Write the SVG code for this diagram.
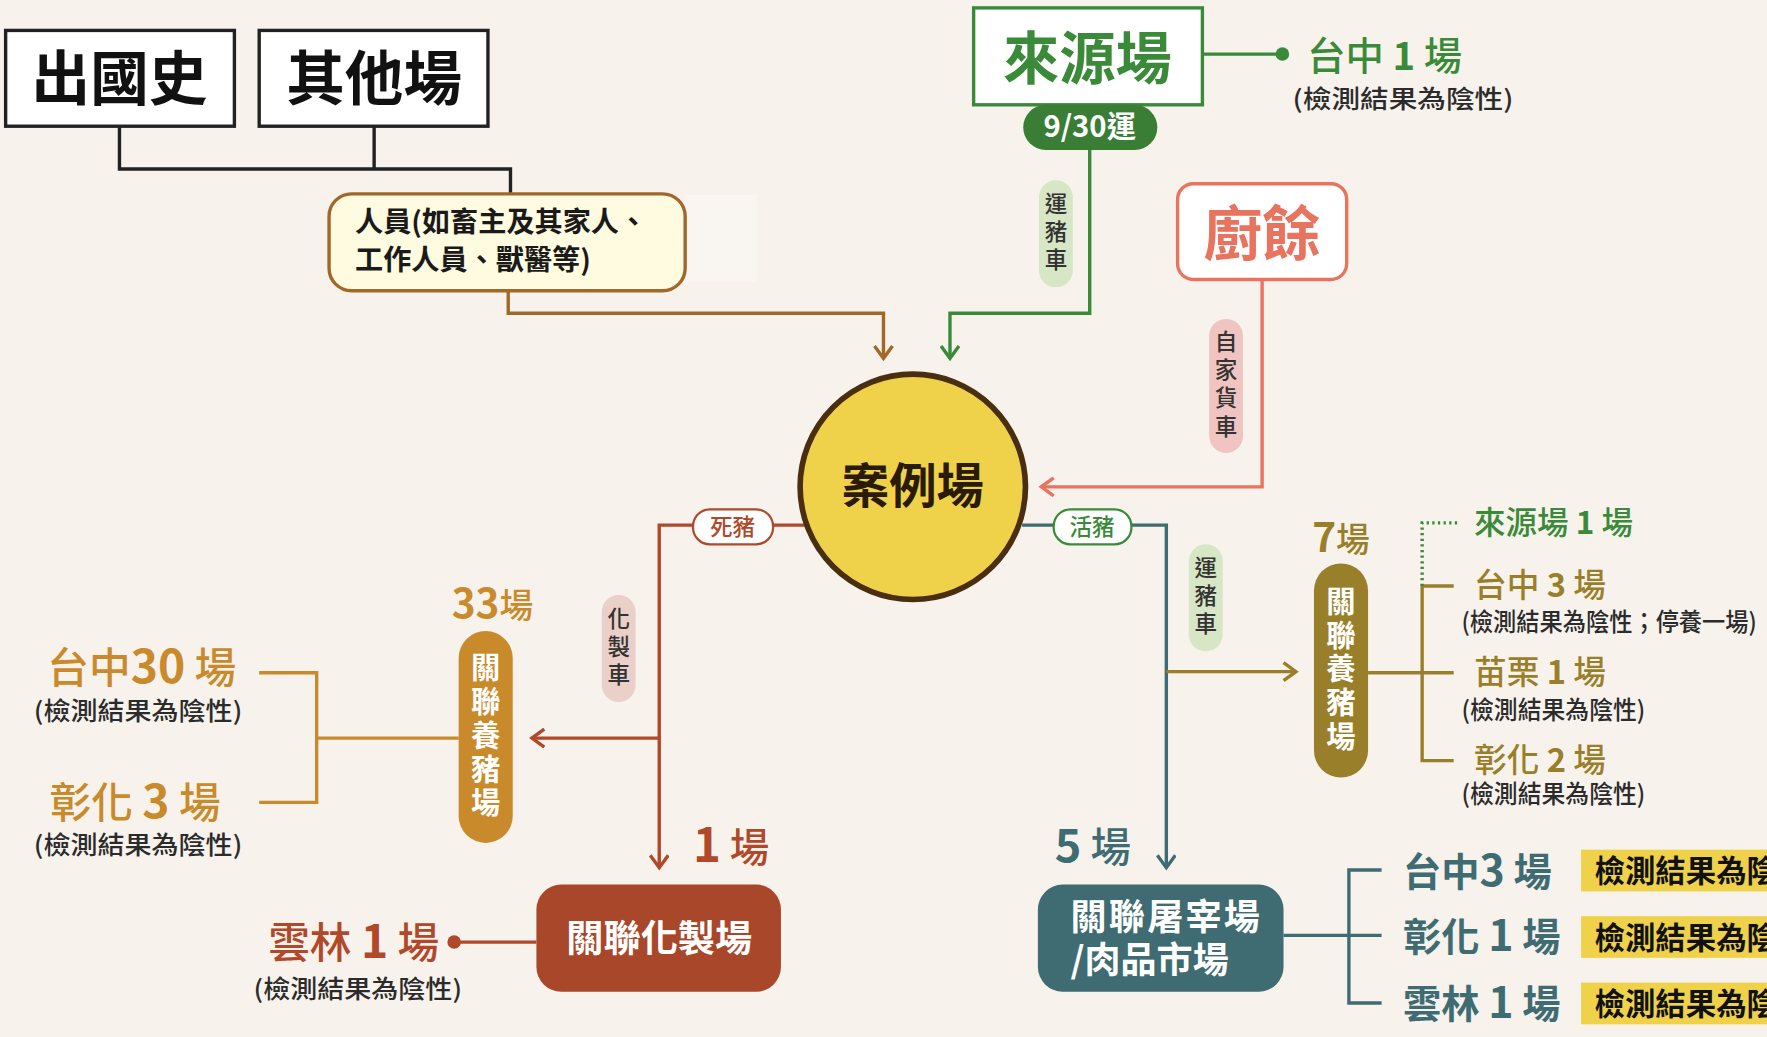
<svg xmlns="http://www.w3.org/2000/svg" width="1767" height="1037" viewBox="0 0 1767 1037">
<defs>
<style>
text{font-family:"Noto Sans CJK TC","Noto Sans CJK SC",sans-serif}
.b{font-weight:700}
.m{font-weight:500}
.sub{font-size:22px;fill:#2b2b2b;font-weight:500}
.ln{fill:none;stroke-width:3}
.vt{font-size:20px;fill:#333;text-anchor:middle;font-weight:500;writing-mode:vertical-rl;letter-spacing:5px}
.wv{font-size:26px;fill:#fff;text-anchor:middle;font-weight:700;writing-mode:vertical-rl;letter-spacing:4px}
</style>
<marker id="aBrown" markerWidth="18" markerHeight="18" refX="13" refY="9" orient="auto" markerUnits="userSpaceOnUse"><path d="M2,1 L13,9 L2,17" fill="none" stroke="#a0692a" stroke-width="3"/></marker>
<marker id="aGreen" markerWidth="18" markerHeight="18" refX="13" refY="9" orient="auto" markerUnits="userSpaceOnUse"><path d="M2,1 L13,9 L2,17" fill="none" stroke="#3a8a3a" stroke-width="3"/></marker>
<marker id="aSalmon" markerWidth="18" markerHeight="18" refX="13" refY="9" orient="auto" markerUnits="userSpaceOnUse"><path d="M2,1 L13,9 L2,17" fill="none" stroke="#e8735f" stroke-width="3"/></marker>
<marker id="aRust" markerWidth="18" markerHeight="18" refX="13" refY="9" orient="auto" markerUnits="userSpaceOnUse"><path d="M2,1 L13,9 L2,17" fill="none" stroke="#b0482a" stroke-width="3"/></marker>
<marker id="aTeal" markerWidth="18" markerHeight="18" refX="13" refY="9" orient="auto" markerUnits="userSpaceOnUse"><path d="M2,1 L13,9 L2,17" fill="none" stroke="#3f6b73" stroke-width="3"/></marker>
<marker id="aOlive" markerWidth="18" markerHeight="18" refX="13" refY="9" orient="auto" markerUnits="userSpaceOnUse"><path d="M2,1 L13,9 L2,17" fill="none" stroke="#9a7f2a" stroke-width="3"/></marker>
</defs>
<rect width="1767" height="1037" fill="#f7f2ec"/>
<g transform="scale(1.1269)">
<rect x="608" y="173" width="64" height="77" fill="#f9f5f0"/>
<g id="connectors">
<path class="ln" d="M106,112 V150 H453 V172 M332,112 V150" stroke="#222" stroke-width="2"/>
<path class="ln" d="M451,258 V278 H784 V318" stroke="#a0692a" marker-end="url(#aBrown)"/>
<path class="ln" d="M967,133 V278 H843 V318" stroke="#3a8a3a" marker-end="url(#aGreen)"/>
<path class="ln" d="M1067,48 H1138" stroke="#3a8a3a"/>
<circle cx="1138" cy="48" r="6" fill="#3a8a3a"/>
<path class="ln" d="M1120,248 V432 H924" stroke="#e8735f" marker-end="url(#aSalmon)"/>
<path class="ln" d="M715,466 H585 V770" stroke="#b0482a" marker-end="url(#aRust)"/>
<path class="ln" d="M585,655 H472" stroke="#b0482a" marker-end="url(#aRust)"/>
<path class="ln" d="M476,836 H403" stroke="#b0482a" stroke-width="2"/>
<circle cx="403" cy="836" r="6" fill="#b0482a"/>
<path class="ln" d="M407,655 H281 M230,597 H281 V712 H230" stroke="#c98a2c"/>
<path class="ln" d="M907,466 H1035 V770" stroke="#3f6b73" marker-end="url(#aTeal)"/>
<path class="ln" d="M1035,596 H1150" stroke="#9a7f2a" marker-end="url(#aOlive)"/>
<path class="ln" d="M1214,597 H1290 M1290,520 H1262 V675 H1290" stroke="#9a7f2a"/>
<path class="ln" d="M1262,520 V464 H1296" stroke="#3a8a3a" stroke-dasharray="2,3"/>
<path class="ln" d="M1139,830 H1226 M1226,772 H1197 V890 H1226" stroke="#3f6b73"/>
</g>
<g id="n-chuguoshi">
<rect x="5" y="27" width="203" height="85" fill="#fff" stroke="#222" stroke-width="3"/>
<text x="106" y="89" font-size="52" class="b" text-anchor="middle" fill="#111">出國史</text>
</g>
<g id="n-qitachang">
<rect x="230" y="27" width="203" height="85" fill="#fff" stroke="#222" stroke-width="3"/>
<text x="332" y="89" font-size="52" class="b" text-anchor="middle" fill="#111">其他場</text>
</g>
<g id="n-renyuan">
<rect x="292" y="172" width="316" height="86" rx="20" fill="#fffbe0" stroke="#a0692a" stroke-width="3"/>
<text x="315" y="206" font-size="25" class="b" fill="#1a1a1a">人員(如畜主及其家人、</text>
<text x="315" y="240" font-size="25" class="b" fill="#1a1a1a">工作人員、獸醫等)</text>
</g>
<g id="n-laiyuan">
<rect x="864" y="7" width="203" height="86" fill="#fff" stroke="#3a8a3a" stroke-width="3"/>
<text x="965" y="70" font-size="50" class="b" text-anchor="middle" fill="#3a8a3a">來源場</text>
<rect x="908" y="93" width="119" height="40" rx="20" fill="#3a7d35"/>
<text x="967" y="122" font-size="26" class="b" text-anchor="middle" fill="#fff">9/30運</text>
<text x="1160" y="62" font-size="34" fill="#3a8a3a" class="m">台中 <tspan class="b">1</tspan> 場</text>
<text x="1147" y="96" class="sub" font-size="23" textLength="196" lengthAdjust="spacingAndGlyphs">(檢測結果為陰性)</text>
</g>
<g id="l-yunzhuche1">
<rect x="922" y="160" width="30" height="95" rx="15" fill="#d7e6c4"/>
<text class="vt" x="937" y="208">運豬車</text>
</g>
<g id="n-chuyu">
<rect x="1045" y="163" width="150" height="85" rx="14" fill="#fff" stroke="#e8735f" stroke-width="3"/>
<text x="1120" y="226" font-size="52" class="b" text-anchor="middle" fill="#e8735f">廚餘</text>
</g>
<g id="l-zijia">
<rect x="1073" y="283" width="30" height="119" rx="15" fill="#f0c4c0"/>
<text class="vt" x="1088" y="343">自家貨車</text>
</g>
<g id="n-anli">
<circle cx="810" cy="432" r="100" fill="#f0d24a" stroke="#4a2e10" stroke-width="5"/>
<text x="810" y="446" font-size="42" class="b" text-anchor="middle" fill="#2a1a08">案例場</text>
</g>
<g id="l-sizhu">
<rect x="615" y="452" width="71" height="31" rx="15" fill="#fff" stroke="#b0482a" stroke-width="2"/>
<text x="650" y="475" font-size="20" class="m" text-anchor="middle" fill="#b0482a">死豬</text>
</g>
<g id="l-huazhiche">
<rect x="534" y="528" width="30" height="95" rx="15" fill="#ead0c8"/>
<text class="vt" x="549" y="576">化製車</text>
</g>
<g id="n-yangzhu-left">
<text x="437" y="548" font-size="36" class="b" text-anchor="middle" fill="#c98a2c">33<tspan font-size="30" class="m">場</tspan></text>
<rect x="407" y="560" width="48" height="188" rx="24" fill="#c98a2c"/>
<text class="wv" x="431" y="654">關聯養豬場</text>
<text x="42" y="606" font-size="37" fill="#c98a2c" class="m">台中<tspan class="b" font-size="41">30</tspan> 場</text>
<text x="30" y="639" class="sub" font-size="23" textLength="185" lengthAdjust="spacingAndGlyphs">(檢測結果為陰性)</text>
<text x="44" y="726" font-size="37" fill="#c98a2c" class="m">彰化 <tspan class="b" font-size="41">3</tspan> 場</text>
<text x="30" y="758" class="sub" font-size="23" textLength="185" lengthAdjust="spacingAndGlyphs">(檢測結果為陰性)</text>
</g>
<g id="n-huazhi">
<text x="615" y="765" font-size="35" fill="#b0482a" class="m"><tspan class="b" font-size="42">1</tspan> 場</text>
<rect x="476" y="785" width="217" height="95" rx="22" fill="#a8472a"/>
<text x="585" y="845" font-size="33" class="b" text-anchor="middle" fill="#fff">關聯化製場</text>
<text x="238" y="850" font-size="37" fill="#b0482a" class="m">雲林 <tspan class="b" font-size="41">1</tspan> 場</text>
<text x="225" y="886" class="sub" font-size="23" textLength="185" lengthAdjust="spacingAndGlyphs">(檢測結果為陰性)</text>
</g>
<g id="l-huozhu">
<rect x="935" y="452" width="69" height="31" rx="15" fill="#fff" stroke="#3a8a3a" stroke-width="2"/>
<text x="969" y="475" font-size="20" class="m" text-anchor="middle" fill="#3a8a3a">活豬</text>
</g>
<g id="l-yunzhuche2">
<rect x="1055" y="483" width="30" height="95" rx="15" fill="#d7e6c4"/>
<text class="vt" x="1070" y="531">運豬車</text>
</g>
<g id="n-yangzhu-right">
<text x="1190" y="490" font-size="36" class="b" text-anchor="middle" fill="#9a7f2a">7<tspan font-size="30" class="m">場</tspan></text>
<rect x="1166" y="500" width="48" height="190" rx="24" fill="#9a7f2a"/>
<text class="wv" x="1190" y="595">關聯養豬場</text>
<text x="1308" y="474" font-size="28" fill="#3a8a3a" class="m">來源場 <tspan class="b">1</tspan> 場</text>
<text x="1308" y="530" font-size="29" fill="#9a7f2a" class="m">台中 <tspan class="b">3</tspan> 場</text>
<text x="1297" y="560" class="sub" font-size="20" textLength="262" lengthAdjust="spacingAndGlyphs">(檢測結果為陰性；停養一場)</text>
<text x="1308" y="607" font-size="29" fill="#9a7f2a" class="m">苗栗 <tspan class="b">1</tspan> 場</text>
<text x="1297" y="638" class="sub" font-size="20" textLength="163" lengthAdjust="spacingAndGlyphs">(檢測結果為陰性)</text>
<text x="1308" y="685" font-size="29" fill="#9a7f2a" class="m">彰化 <tspan class="b">2</tspan> 場</text>
<text x="1297" y="713" class="sub" font-size="20" textLength="163" lengthAdjust="spacingAndGlyphs">(檢測結果為陰性)</text>
</g>
<g id="n-tuzai">
<text x="936" y="765" font-size="36" fill="#3f6b73" class="m"><tspan class="b" font-size="40">5</tspan> 場</text>
<rect x="921" y="785" width="218" height="95" rx="22" fill="#3f6b73"/>
<text x="950" y="825" font-size="32" class="b" fill="#fff" textLength="168" lengthAdjust="spacing">關聯屠宰場</text>
<text x="950" y="863" font-size="32" class="b" fill="#fff">/肉品市場</text>
<text x="1245" y="786" font-size="34" class="b" fill="#3f6b73">台中<tspan font-size="38">3</tspan> 場</text>
<text x="1245" y="844" font-size="34" class="b" fill="#3f6b73">彰化 <tspan font-size="38">1</tspan> 場</text>
<text x="1245" y="903" font-size="34" class="b" fill="#3f6b73">雲林 <tspan font-size="38">1</tspan> 場</text>
<rect x="1403" y="754" width="200" height="37" fill="#f0d24a"/>
<rect x="1403" y="813" width="200" height="37" fill="#f0d24a"/>
<rect x="1403" y="872" width="200" height="37" fill="#f0d24a"/>
<text x="1415" y="783" font-size="27" class="b" fill="#111">檢測結果為陰性</text>
<text x="1415" y="842" font-size="27" class="b" fill="#111">檢測結果為陰性</text>
<text x="1415" y="901" font-size="27" class="b" fill="#111">檢測結果為陰性</text>
</g>
</g>
</svg>
